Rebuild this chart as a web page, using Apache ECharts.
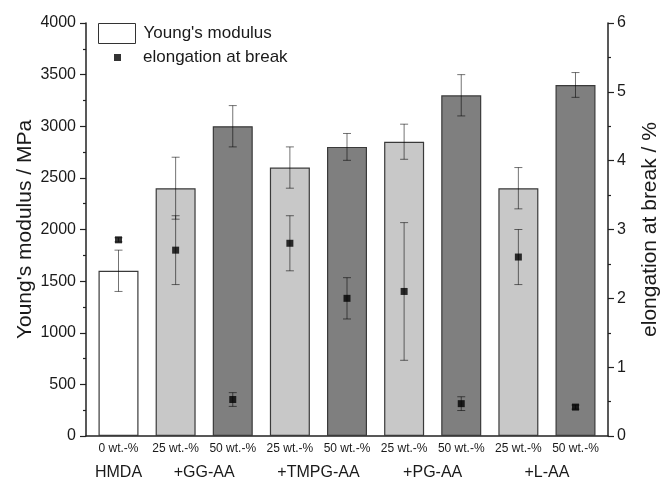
<!DOCTYPE html>
<html>
<head>
<meta charset="utf-8">
<script src="https://cdn.jsdelivr.net/npm/echarts@6/dist/echarts.min.js"></script>
<style>html,body{margin:0;padding:0;background:#fff}#c{width:661px;height:481px}</style>
</head>
<body>
<div id="c"></div>
<script>
var wtLabels = ['0 wt.-%','25 wt.-%','50 wt.-%','25 wt.-%','50 wt.-%','25 wt.-%','50 wt.-%','25 wt.-%','50 wt.-%'];
var groupNames = ['HMDA','+GG-AA','+TMPG-AA','+PG-AA','+L-AA'];
var groupPos = [1, 2.5, 4.5, 6.5, 8.5];
var modulus = [1600, 2400, 3000, 2600, 2800, 2850, 3300, 2400, 3400];
var modulusErr = [200, 300, 200, 200, 130, 170, 200, 200, 120];
var elong = [2.85, 2.7, 0.53, 2.8, 2.0, 2.1, 0.47, 2.6, 0.42];
var elongErr = [0.03, 0.5, 0.1, 0.4, 0.3, 1.0, 0.1, 0.4, 0.03];
var leftTicks = [0, 4000, 500];
var rightTicks = [0, 6, 1];

var FONT = '"Liberation Sans", Arial, sans-serif';
var TXT = '#1a1a1a';
function fillFor(lbl){ return lbl.indexOf('25')===0 ? '#c8c8c8' : (lbl.indexOf('50')===0 ? '#7f7f7f' : '#ffffff'); }

var xs = wtLabels.map(function(_, i){ return i + 1; });
var barData = modulus.map(function(v, i){
  return { value: [xs[i], v], itemStyle: { color: fillFor(wtLabels[i]) } };
});
var modErrData = modulus.map(function(v, i){ return [xs[i], v, modulusErr[i]]; });
var elErrData = elong.map(function(v, i){ return [xs[i], v, elongErr[i]]; });
var elData = elong.map(function(v, i){ return [xs[i], v]; });

function errRender(params, api){
  var x = api.value(0), m = api.value(1), e = api.value(2);
  var hi = api.coord([x, m + e]), lo = api.coord([x, m - e]);
  var hw = 4;
  var st = { stroke: 'rgba(0,0,0,0.55)', lineWidth: 1 };
  return { type: 'group', children: [
    { type: 'line', shape: { x1: hi[0], y1: hi[1], x2: lo[0], y2: lo[1] }, style: st },
    { type: 'line', shape: { x1: hi[0]-hw, y1: hi[1], x2: hi[0]+hw, y2: hi[1] }, style: st },
    { type: 'line', shape: { x1: lo[0]-hw, y1: lo[1], x2: lo[0]+hw, y2: lo[1] }, style: st }
  ]};
}
function plain(v){ return String(v); }

var chart = echarts.init(document.getElementById('c'), null, { renderer: 'canvas' });
var axisLineStyle = { color: '#222', width: 1.5 };
chart.setOption({
  animation: false,
  backgroundColor: '#ffffff',
  textStyle: { fontFamily: FONT },
  grid: { left: 86, right: 53, top: 23, bottom: 45, containLabel: false, outerBoundsMode: 'none' },
  legend: [
    { data: [{ name: "Young's modulus", itemStyle: { color: '#ffffff', borderColor: '#333', borderWidth: 1 } }],
      left: 98, top: 23, padding: 0, itemWidth: 37, itemHeight: 20, icon: 'rect',
      textStyle: { fontFamily: FONT, fontSize: 17, color: TXT, padding: [0,0,0,3] } },
    { data: [{ name: 'elongation at break', icon: 'rect', itemStyle: { color: '#000' } }],
      left: 114, top: 49, padding: 0, itemWidth: 7, itemHeight: 7,
      textStyle: { fontFamily: FONT, fontSize: 17, color: TXT, padding: [0,0,0,17] } }
  ],
  xAxis: [
    { type: 'value', min: 0.431, max: 9.569, position: 'bottom',
      axisLine: { show: true, onZero: false, lineStyle: axisLineStyle },
      axisTick: { show: false }, splitLine: { show: false },
      axisLabel: { customValues: xs, margin: 7, fontSize: 12, color: TXT, fontFamily: FONT,
        formatter: function(v){ return wtLabels[Math.round(v) - 1]; } } },
    { type: 'value', min: 0.431, max: 9.569, position: 'bottom',
      axisLine: { show: false }, axisTick: { show: false }, splitLine: { show: false },
      axisLabel: { customValues: groupPos, margin: 29, fontSize: 16, color: TXT, fontFamily: FONT,
        formatter: function(v){
          for (var i = 0; i < groupPos.length; i++) if (Math.abs(groupPos[i] - v) < 1e-6) return groupNames[i];
          return ''; } } }
  ],
  yAxis: [
    { type: 'value', min: leftTicks[0], max: leftTicks[1], interval: leftTicks[2], position: 'left',
      name: "Young's modulus / MPa", nameLocation: 'middle', nameGap: 50, nameRotate: 90, nameMoveOverlap: false,
      nameTextStyle: { fontSize: 21, color: TXT, fontFamily: FONT },
      axisLine: { show: true, lineStyle: axisLineStyle },
      axisTick: { show: true, inside: false, length: 6, lineStyle: { color: '#222', width: 1.2 } },
      minorTick: { show: true, splitNumber: 2, length: 3, lineStyle: { color: '#222', width: 1.2 } },
      splitLine: { show: false },
      axisLabel: { margin: 10, fontSize: 16, color: TXT, fontFamily: FONT, formatter: plain } },
    { type: 'value', min: rightTicks[0], max: rightTicks[1], interval: rightTicks[2], position: 'right',
      name: 'elongation at break / %', nameLocation: 'middle', nameGap: 32, nameRotate: 90, nameMoveOverlap: false,
      nameTextStyle: { fontSize: 21, color: TXT, fontFamily: FONT },
      axisLine: { show: true, lineStyle: axisLineStyle },
      axisTick: { show: true, inside: false, length: 6, lineStyle: { color: '#222', width: 1.2 } },
      minorTick: { show: true, splitNumber: 2, length: 3, lineStyle: { color: '#222', width: 1.2 } },
      splitLine: { show: false },
      axisLabel: { margin: 9, fontSize: 16, color: TXT, fontFamily: FONT, formatter: plain } }
  ],
  series: [
    { name: "Young's modulus", type: 'bar', xAxisIndex: 0, yAxisIndex: 0, barWidth: 40,
      data: barData, itemStyle: { color: '#ffffff', borderColor: '#3a3a3a', borderWidth: 1.2 }, z: 2 },
    { name: 'modErr', type: 'custom', xAxisIndex: 0, yAxisIndex: 0, data: modErrData,
      renderItem: errRender, z: 3, silent: true },
    { name: 'elErr', type: 'custom', xAxisIndex: 0, yAxisIndex: 1, data: elErrData,
      renderItem: errRender, z: 4, silent: true },
    { name: 'elongation at break', type: 'scatter', xAxisIndex: 0, yAxisIndex: 1,
      symbol: 'rect', symbolSize: 7, data: elData, itemStyle: { color: '#000' }, z: 5 }
  ]
});
</script>
</body>
</html>
